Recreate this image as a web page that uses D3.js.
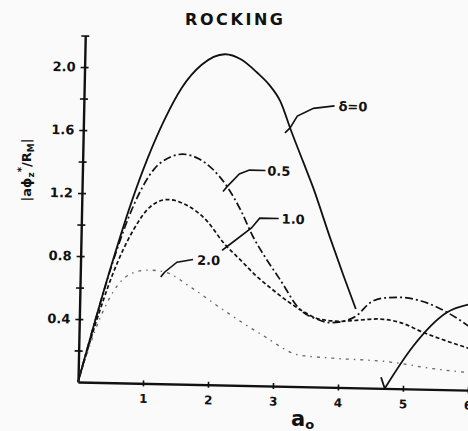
<!DOCTYPE html>
<html>
<head>
<meta charset="utf-8">
<script src="https://cdn.jsdelivr.net/npm/d3@7"></script>
<style>
  html, body { margin: 0; padding: 0; background: #fafafa; }
  svg { display: block; }
  text { font-family: "DejaVu Sans", sans-serif; font-weight: bold; fill: #111; }
</style>
</head>
<body>
<svg id="chart" width="468" height="431"></svg>
<script>
// ---- tick values ----
const xTicks = [1, 2, 3, 4, 5, 6];
const yMajorTicks = [0.4, 0.8, 1.2, 1.6, 2.0];
const yMinorTicks = [0.2, 0.6, 1.0, 1.4, 1.8, 2.2];

// ---- rocking response |a·phi_z*/R_M| against a0, one series per delta ----
// delta = 0 : first lobe (gap where the print fades) and second lobe after the zero
const a_d0a = [0, 0.25, 0.5, 0.75, 1.0, 1.25, 1.5, 1.8, 2.16, 2.4, 2.65, 2.85, 3.02, 3.2, 3.39, 3.55, 3.83, 4.05, 4.25, 4.45, 4.66, 4.72];
const v_d0a = [0, 0.40, 0.78, 1.13, 1.43, 1.68, 1.88, 2.03, 2.10, 2.07, 1.99, 1.91, 1.81, 1.62, 1.43, 1.27, 0.95, 0.71, 0.50, null, 0.07, 0];
const a_d0b = [4.72, 5.14, 5.65, 6.05];
const v_d0b = [0, 0.27, 0.49, 0.55];

// delta = 0.5
const a_d05 = [0, 0.25, 0.5, 0.8, 1.1, 1.35, 1.54, 1.8, 2.0, 2.23, 2.45, 2.64, 2.85, 3.07, 3.39, 3.66, 3.85, 4.05, 4.27, 4.46, 4.7, 4.92, 5.25, 5.66, 6.05];
const v_d05 = [0, 0.40, 0.77, 1.13, 1.36, 1.44, 1.46, 1.43, 1.37, 1.26, 1.11, 0.95, 0.81, 0.68, 0.49, 0.43, 0.41, 0.42, 0.46, 0.54, 0.575, 0.58, 0.56, 0.49, 0.39];

// delta = 1.0
const a_d1 = [0, 0.25, 0.5, 0.8, 1.05, 1.32, 1.6, 1.93, 2.2, 2.45, 2.7, 2.97, 3.2, 3.39, 3.71, 4.0, 4.3, 4.6, 4.94, 5.3, 5.65, 6.05];
const v_d1 = [0, 0.37, 0.69, 0.97, 1.12, 1.17, 1.14, 1.04, 0.90, 0.80, 0.70, 0.61, 0.54, 0.49, 0.43, 0.42, 0.43, 0.44, 0.42, 0.36, 0.31, 0.26];

// delta = 2.0
const a_d2 = [0, 0.32, 0.58, 0.81, 1.05, 1.3, 1.69, 2.2, 2.83, 3.4, 3.92, 4.75, 5.5, 6.05];
const v_d2 = [0, 0.41, 0.62, 0.70, 0.72, 0.71, 0.62, 0.48, 0.32, 0.20, 0.185, 0.17, 0.13, 0.11];

// curve labels: text and the a0 where the leader touches the curve
const labelTexts = ["δ=0", "0.5", "1.0", "2.0"];
const labelAnchorsA = [3.18, 2.23, 2.25, 1.30];

// ---- layout ----
const W = 468, H = 431;
const origin = { x: 78, y: 382 };
const tilt = 1.2; // the whole drawing sits slightly rotated

const x = d3.scaleLinear().domain([0, 6]).range([origin.x, origin.x + 390]);
const y = d3.scaleLinear().domain([0, 2.2]).range([origin.y, origin.y - 2.2 * 157.5]);

const svg = d3.select("#chart");
svg.append("rect").attr("width", W).attr("height", H).attr("fill", "#fafafa");

// title
svg.append("text")
  .attr("x", 234).attr("y", 25)
  .attr("text-anchor", "middle")
  .attr("font-size", 16)
  .attr("textLength", 98).attr("lengthAdjust", "spacing")
  .text("ROCKING");

// y-axis title
const yt = svg.append("text")
  .attr("transform", "translate(31,170) rotate(-90)")
  .attr("text-anchor", "middle")
  .attr("font-size", 13);
yt.append("tspan").text("|aϕ");
yt.append("tspan").attr("font-size", 9).attr("dy", 3).text("z");
yt.append("tspan").attr("font-size", 10).attr("dy", -9).text("*");
yt.append("tspan").attr("dy", 6).text("/R");
yt.append("tspan").attr("font-size", 9).attr("dy", 3).text("M");
yt.append("tspan").attr("dy", -3).text("|");

// x-axis title a0
const xt = svg.append("text").attr("x", 291).attr("y", 426).attr("font-size", 21);
xt.append("tspan").text("a");
xt.append("tspan").attr("font-size", 13).attr("dy", 3).text("o");

const g = svg.append("g").attr("transform", `rotate(${tilt},${origin.x},${origin.y})`);

// ---- axes ----
const yAxis = d3.axisLeft(y).tickValues(yMajorTicks).tickFormat(d3.format(".1f"))
  .tickSizeInner(4).tickSizeOuter(0).tickPadding(5);
const yAxisG = g.append("g").attr("transform", `translate(${origin.x},0)`).call(yAxis);
yAxisG.select(".domain").attr("stroke", "#111").attr("stroke-width", 2.4);
yAxisG.selectAll(".tick line").attr("x1", 4).attr("stroke", "#111").attr("stroke-width", 1.6);
yAxisG.selectAll(".tick text").attr("font-size", 13).attr("font-family", "DejaVu Sans, sans-serif")
  .attr("font-weight", "bold").attr("fill", "#111");

const yMinor = d3.axisLeft(y).tickValues(yMinorTicks).tickFormat("").tickSizeInner(4).tickSizeOuter(0);
const yMinorG = g.append("g").attr("transform", `translate(${origin.x},0)`).call(yMinor);
yMinorG.select(".domain").remove();
yMinorG.selectAll(".tick line").attr("x1", 4).attr("stroke", "#111").attr("stroke-width", 1.6);

const xAxis = d3.axisBottom(x).tickValues(xTicks).tickFormat(d3.format("d"))
  .tickSizeInner(3).tickSizeOuter(0).tickPadding(8);
const xAxisG = g.append("g").attr("transform", `translate(0,${origin.y})`).call(xAxis);
xAxisG.select(".domain").attr("stroke", "#111").attr("stroke-width", 2.4);
xAxisG.selectAll(".tick line").attr("y1", -3).attr("stroke", "#111").attr("stroke-width", 1.6);
xAxisG.selectAll(".tick text").attr("font-size", 12).attr("font-family", "DejaVu Sans, sans-serif")
  .attr("font-weight", "bold").attr("fill", "#111");

// ---- curves ----
const zip = (as, vs) => as.map((a, i) => [a, vs[i]]);
const line = d3.line()
  .defined(d => d[1] !== null)
  .x(d => x(d[0])).y(d => y(d[1]))
  .curve(d3.curveMonotoneX);

const plot = g.append("g");
const seriesList = [
  { pts: zip(a_d0a, v_d0a), dash: null, w: 1.8, c: "#111", op: 1 },
  { pts: zip(a_d0b, v_d0b), dash: null, w: 1.8, c: "#111", op: 1 },
  { pts: zip(a_d05, v_d05), dash: "8,3,2,3", w: 1.7, c: "#111", op: 1 },
  { pts: zip(a_d1, v_d1), dash: "4,2.5", w: 1.7, c: "#111", op: 1 },
  { pts: zip(a_d2, v_d2), dash: "3,5,1.5,5", w: 1.3, c: "#333", op: 0.75 }
];
plot.selectAll("path.curve").data(seriesList).join("path")
  .attr("class", "curve")
  .attr("d", d => line(d.pts))
  .attr("fill", "none")
  .attr("stroke", d => d.c)
  .attr("stroke-width", d => d.w)
  .attr("stroke-opacity", d => d.op)
  .attr("stroke-dasharray", d => d.dash);

// ---- curve labels with leaders ----
const labelSeries = [zip(a_d0a, v_d0a).filter(d => d[1] !== null), zip(a_d05, v_d05), zip(a_d1, v_d1), zip(a_d2, v_d2)];
function valueAt(pts, a) {
  const i = d3.bisector(d => d[0]).left(pts, a);
  if (i <= 0) return pts[0][1];
  const p0 = pts[i - 1], p1 = pts[i];
  const t = (a - p0[0]) / (p1[0] - p0[0]);
  return p0[1] + t * (p1[1] - p0[1]);
}
// leader polylines relative to the anchor point, and text offsets
const leaderShapes = [
  [[-5, 5], [0, 0], [7, -12], [23, -20], [44, -23]],
  [[-4, 5], [0, 0], [12, -13], [22, -17], [38, -17]],
  [[-5, 4], [0, 0], [24, -19], [32, -29], [51, -29]],
  [[-4, 5], [0, 0], [12, -10], [28, -13]]
];
const textOffsets = [[48, -18], [40, -12], [54, -24], [32, -8]];

labelTexts.forEach((t, i) => {
  const a = labelAnchorsA[i];
  const px = x(a), py = y(valueAt(labelSeries[i], a));
  g.append("path")
    .attr("d", d3.line()(leaderShapes[i].map(p => [px + p[0], py + p[1]])))
    .attr("fill", "none").attr("stroke", "#111").attr("stroke-width", 1.6);
  g.append("text")
    .attr("x", px + textOffsets[i][0]).attr("y", py + textOffsets[i][1])
    .attr("font-size", 13)
    .text(t);
});
</script>
</body>
</html>
